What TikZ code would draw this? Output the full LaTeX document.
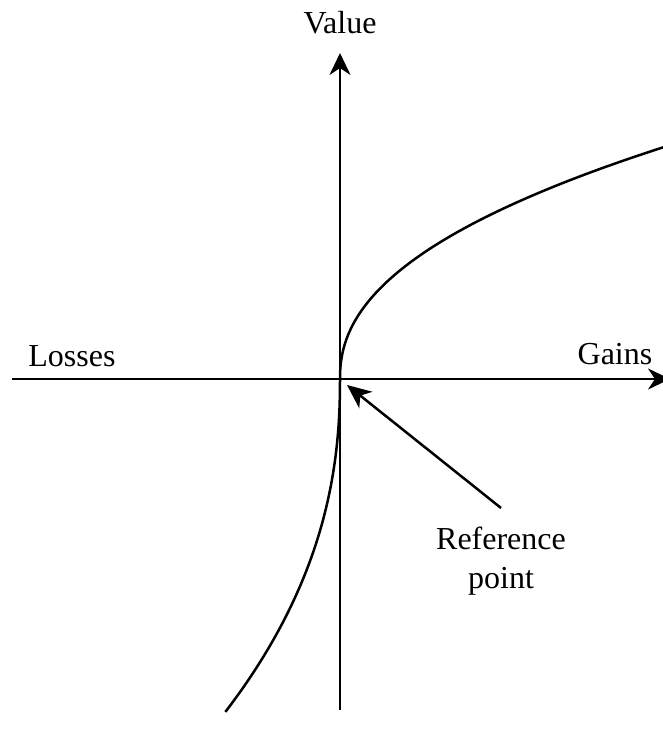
\documentclass[tikz,border=0pt]{standalone}
\usepackage{fontspec}
\setmainfont{Liberation Serif}
\usetikzlibrary{arrows.meta,positioning}

\begin{document}
\begin{tikzpicture}[
  x=1pt,y=-1pt,
  axis/.style={line width=2.5pt,-{Stealth[length=22pt,width=21pt,inset=7pt]}},
  arr/.style={line width=2.5pt,-{Stealth[length=24pt,width=21pt,inset=7pt]}},
  crv/.style={line width=2.5pt},
  lab/.style={font=\fontsize{32}{39}\selectfont,inner sep=0pt},
]
\useasboundingbox (0,0) rectangle (663,731);

% axes
\coordinate (O)  at (340,379);
\coordinate (xl) at (12,379);
\coordinate (xr) at (670,379);
\coordinate (yb) at (340,710);
\coordinate (yt) at (340,53);
\draw[axis] (xl) -- (xr);
\draw[axis] (yb) -- (yt);

\node[lab,anchor=base] (value)  at (340,33)  {Value};
\node[lab,anchor=base] (losses) at (72,366)  {Losses};
\node[lab,anchor=base] (gains)  at (615,364) {Gains};

% value function
\draw[crv] (O) -- plot[domain=0.01:13.6,samples=120] ({340+\x^2.222},{379-17.2*\x});
\draw[crv] (O) -- plot[domain=0.01:8.45,samples=100] ({340-\x^2.222},{379+39.4*\x});

% reference point
\coordinate (tip) at (347,385);
\node[lab,align=center,anchor=north,inner ysep=19pt] (refpt) at (501,508) {Reference\\point};
\draw[arr] (refpt.north) -- (tip);

\end{tikzpicture}
\end{document}
